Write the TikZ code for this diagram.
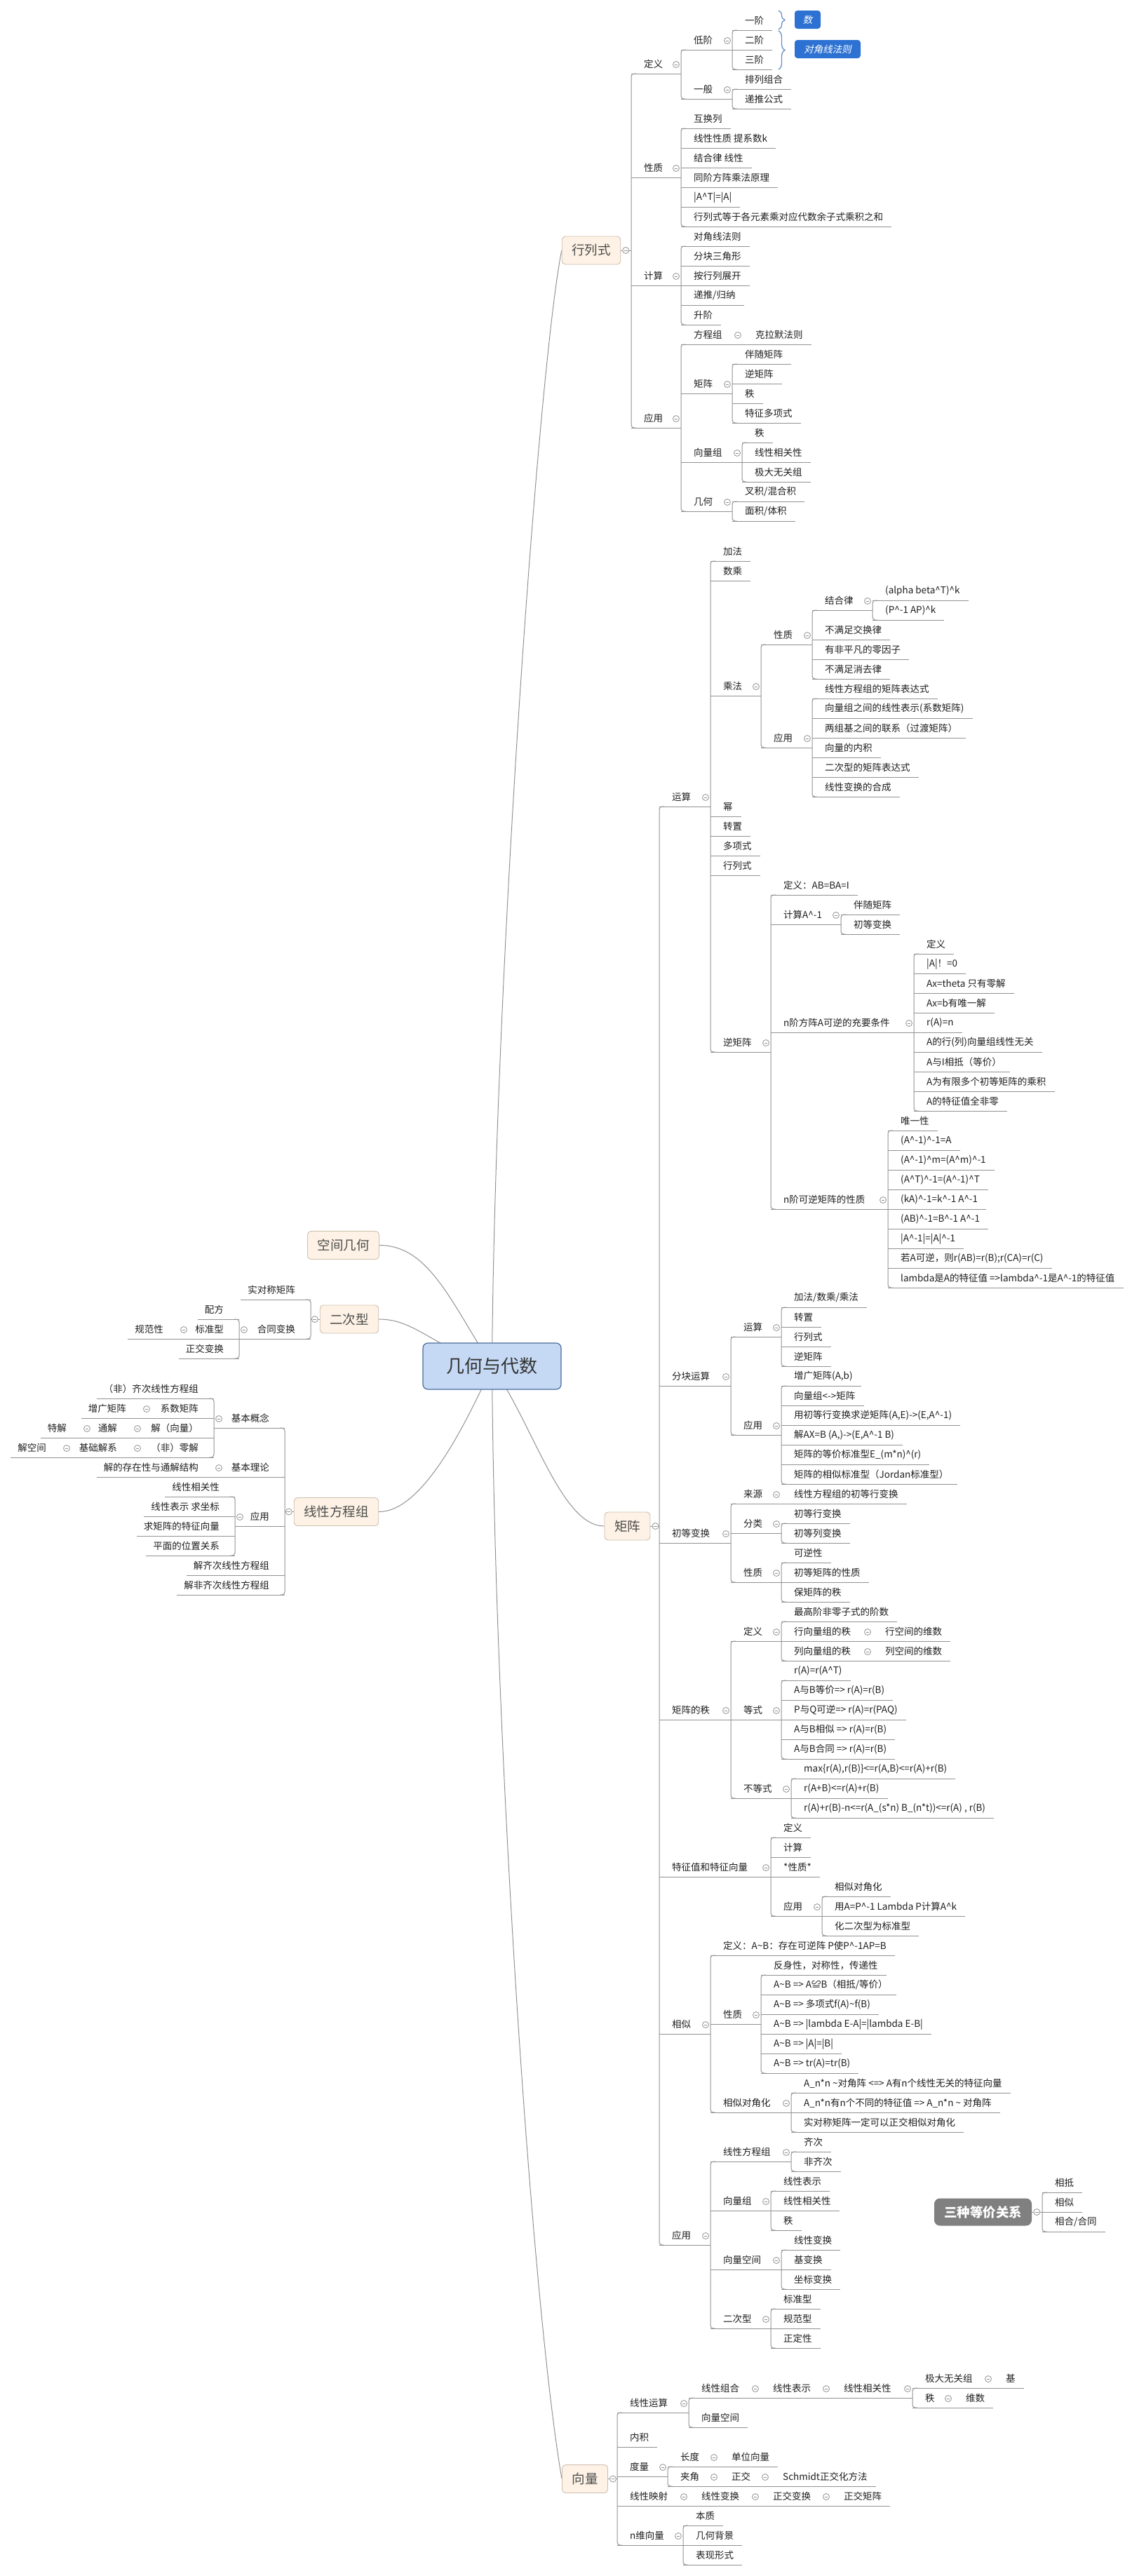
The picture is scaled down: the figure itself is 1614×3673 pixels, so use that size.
\documentclass[tikz,border=0pt]{standalone}
\usepackage{fontspec}
\setmainfont{Noto Sans CJK SC}
\newfontfamily\itcjk{Noto Sans CJK SC}[FakeSlant=0.2]
\usetikzlibrary{calc,backgrounds,decorations.pathreplacing}
\definecolor{lnc}{HTML}{929292}
\definecolor{boxf}{HTML}{FDF2E5}
\definecolor{boxb}{HTML}{CDBFAF}
\definecolor{boxt}{HTML}{4D4D4D}
\definecolor{rootf}{HTML}{C5D9F4}
\definecolor{rootb}{HTML}{4C6C9C}
\definecolor{calf}{HTML}{2D72D2}
\definecolor{brc}{HTML}{6A8FC8}
\newcommand\crt{\textasciicircum}
\newcommand\tld{\textasciitilde}
\newcommand\Rpar[4]{\node[nd,anchor=south west] (#1) at (#2,#3) {\hspace*{18pt}#4\hspace*{12pt}};}
\newcommand\Rleaf[4]{\Rpar{#1}{#2}{#3}{#4}\draw[ln] (#1.south west) -- (#1.south east);}
\newcommand\Rlink[2]{\draw[ln] (#1.south west) -- (#1.south west -| #2.south west); \pic at ($(#1.south west -| #2.south west)+(-7,-13)$) {colp};}
\newcommand\Rbr[2]{\draw[ln,rounded corners=4pt] ([xshift=7pt]#1.south west) -- (#1.south west) -- (#2.south west) -- ([xshift=7pt]#2.south west);}
\newcommand\Lpar[4]{\node[nd,anchor=south east] (#1) at (#2,#3) {\hspace*{10pt}#4\hspace*{22pt}};}
\newcommand\Lleaf[4]{\Lpar{#1}{#2}{#3}{#4}\draw[ln] (#1.south east) -- (#1.south west);}
\newcommand\Llink[2]{\draw[ln] (#1.south east) -- (#1.south east -| #2.south east); \pic at ($(#1.south east -| #2.south east)+(7,-13)$) {colp};}
\newcommand\Lbr[2]{\draw[ln,rounded corners=4pt] ([xshift=-7pt]#1.south east) -- (#1.south east) -- (#2.south east) -- ([xshift=-7pt]#2.south east);}
\newcommand\Mlink[2]{\draw[ln] (#1.east) -- (#1.east -| #2.south west); \pic at ($(#1.east)+(7,0)$) {colp};}
\newcommand\Mlinkl[2]{\draw[ln] (#1.west) -- (#1.west -| #2.south east); \pic at ($(#1.west)+(-7,0)$) {colp};}
\tikzset{
  nd/.style={inner sep=0pt, minimum height=27pt, font=\fontsize{13.5}{16}\selectfont, text=black!88},
  ln/.style={draw=lnc, line width=1pt},
  cv/.style={draw=lnc, line width=1pt},
  colp/.pic={\draw[draw=lnc, fill=white, line width=0.8pt] (0,0) circle (4.5pt); \draw[draw=lnc, line width=0.8pt] (-2.4pt,0) -- (2.4pt,0);},
  mbox/.style={draw=boxb, fill=boxf, rounded corners=5pt, line width=0.9pt, minimum height=40pt, inner xsep=14pt, inner ysep=0pt, font=\fontsize{18.5}{22}\selectfont, text=boxt},
  rootbox/.style={draw=rootb, fill=rootf, rounded corners=7pt, line width=1.2pt, minimum width=197pt, minimum height=66pt, font=\fontsize{26}{30}\selectfont, text=black!80},
  gbox/.style={fill=black!50, rounded corners=8pt, minimum height=39pt, inner xsep=14pt, font=\fontsize{18.5}{22}\selectfont\bfseries, text=white},
  callout/.style={fill=calf, rounded corners=4pt, inner sep=0pt, minimum height=26pt, font=\fontsize{13.5}{16}\selectfont\itcjk, text=white},
  brc/.style={draw=brc, line width=1.3pt, decorate, decoration={brace, amplitude=9pt}}
}
\begin{document}
\begin{tikzpicture}[x=1pt,y=-1pt]
\useasboundingbox (0,0) rectangle (1614,3673);
\begin{scope}[on background layer]
\fill[white] (0,0) rectangle (1614,3673);
\end{scope}

% ---------- root and main boxes
\node[rootbox] (root) at (701.5,1948) {几何与代数};
\node[mbox] (hls) at (843,357) {行列式};
\node[mbox] (mjz) at (894.5,2176) {矩阵};
\node[mbox] (vxl) at (834,3534.5) {向量};
\node[mbox] (lkj) at (489.5,1775.5) {空间几何};
\node[mbox] (lqx) at (498,1881) {二次型};
\node[mbox] (lxf) at (479.5,2155.5) {线性方程组};
\node[gbox] (edj) at (1401.5,3154) {三种等价关系};

% ---------- 行列式
\Rpar{hdy}{900}{105}{定义}
\Rpar{hxz}{900}{253}{性质}
\Rpar{hjs}{900}{407}{计算}
\Rpar{hyy}{900}{610}{应用}
\Mlink{hls}{hdy}
\Rbr{hdy}{hyy}
\Rpar{hdj}{971}{71}{低阶}
\Rpar{hyb}{971}{141}{一般}
\Rlink{hdy}{hdj}
\Rbr{hdj}{hyb}
\Rleaf{hya}{1044}{43}{一阶}
\Rleaf{hea}{1044}{71}{二阶}
\Rleaf{hsa}{1044}{99}{三阶}
\Rlink{hdj}{hya}
\Rbr{hya}{hsa}
\Rleaf{hpl}{1044}{127}{排列组合}
\Rleaf{hdt}{1044}{155}{递推公式}
\Rlink{hyb}{hpl}
\Rbr{hpl}{hdt}
\node[callout, minimum width=37pt] (cs) at (1151.5,28) {数};
\node[callout, minimum width=94pt] (cd) at (1180,70) {对角线法则};
\draw[brc] (1110,15) -- (1110,42);
\draw[brc] (1110,44) -- (1110,99);

\Rleaf{hx1}{971}{183}{互换列}
\Rleaf{hx2}{971}{211}{线性性质 提系数k}
\Rleaf{hx3}{971}{239}{结合律 线性}
\Rleaf{hx4}{971}{267}{同阶方阵乘法原理}
\Rleaf{hx5}{971}{295}{|A\crt T|=|A|}
\Rleaf{hx6}{971}{323}{行列式等于各元素乘对应代数余子式乘积之和}
\Rlink{hxz}{hx1}
\Rbr{hx1}{hx6}

\Rleaf{hj1}{971}{351}{对角线法则}
\Rleaf{hj2}{971}{379}{分块三角形}
\Rleaf{hj3}{971}{407}{按行列展开}
\Rleaf{hj4}{971}{435}{递推/归纳}
\Rleaf{hj5}{971}{463}{升阶}
\Rlink{hjs}{hj1}
\Rbr{hj1}{hj5}

\Rpar{hfc}{971}{491}{方程组}
\Rleaf{hkl}{1059}{491}{克拉默法则}
\Rlink{hfc}{hkl}
\Rpar{hjz}{971}{561}{矩阵}
\Rleaf{hz1}{1044}{519}{伴随矩阵}
\Rleaf{hz2}{1044}{547}{逆矩阵}
\Rleaf{hz3}{1044}{575}{秩}
\Rleaf{hz4}{1044}{603}{特征多项式}
\Rlink{hjz}{hz1}
\Rbr{hz1}{hz4}
\Rpar{hxl}{971}{659}{向量组}
\Rleaf{hl1}{1058}{631}{秩}
\Rleaf{hl2}{1058}{659}{线性相关性}
\Rleaf{hl3}{1058}{687}{极大无关组}
\Rlink{hxl}{hl1}
\Rbr{hl1}{hl3}
\Rpar{hjh}{971}{729}{几何}
\Rleaf{hh1}{1044}{715}{叉积/混合积}
\Rleaf{hh2}{1044}{743}{面积/体积}
\Rlink{hjh}{hh1}
\Rbr{hh1}{hh2}
\Rlink{hyy}{hfc}
\Rbr{hfc}{hjh}

% ---------- 矩阵
\Rpar{mys}{940}{1150}{运算}
\Rpar{mfk}{940}{1976}{分块运算}
\Rpar{mcd}{940}{2200}{初等变换}
\Rpar{mzd}{940}{2452}{矩阵的秩}
\Rpar{mtz}{940}{2676}{特征值和特征向量}
\Rpar{mxs}{940}{2900}{相似}
\Rpar{myy}{940}{3201}{应用}
\Mlink{mjz}{mys}
\Rbr{mys}{myy}

\Rleaf{ma1}{1013}{800}{加法}
\Rleaf{ma2}{1013}{828}{数乘}
\Rpar{mcf}{1013}{992}{乘法}
\Rleaf{ma4}{1013}{1164}{幂}
\Rleaf{ma5}{1013}{1192}{转置}
\Rleaf{ma6}{1013}{1220}{多项式}
\Rleaf{ma7}{1013}{1248}{行列式}
\Rpar{mnj}{1013}{1500}{逆矩阵}
\Rlink{mys}{ma1}
\Rbr{ma1}{mnj}

\Rpar{mcx}{1085}{919}{性质}
\Rpar{mcy}{1085}{1066}{应用}
\Rlink{mcf}{mcx}
\Rbr{mcx}{mcy}
\Rpar{mjh}{1158}{870}{结合律}
\Rleaf{mx2}{1158}{912}{不满足交换律}
\Rleaf{mx3}{1158}{940}{有非平凡的零因子}
\Rleaf{mx4}{1158}{968}{不满足消去律}
\Rlink{mcx}{mjh}
\Rbr{mjh}{mx4}
\Rleaf{mj1}{1244}{856}{(alpha beta\crt T)\crt k}
\Rleaf{mj2}{1244}{884}{(P\crt -1 AP)\crt k}
\Rlink{mjh}{mj1}
\Rbr{mj1}{mj2}
\Rleaf{my1}{1158}{996}{线性方程组的矩阵表达式}
\Rleaf{my2}{1158}{1024}{向量组之间的线性表示(系数矩阵)}
\Rleaf{my3}{1158}{1052}{两组基之间的联系（过渡矩阵）}
\Rleaf{my4}{1158}{1080}{向量的内积}
\Rleaf{my5}{1158}{1108}{二次型的矩阵表达式}
\Rleaf{my6}{1158}{1136}{线性变换的合成}
\Rlink{mcy}{my1}
\Rbr{my1}{my6}

\Rleaf{mn1}{1099}{1276}{定义：AB=BA=I}
\Rpar{mn2}{1099}{1318}{计算A\crt -1}
\Rpar{mn3}{1099}{1472}{n阶方阵A可逆的充要条件}
\Rpar{mn4}{1099}{1724}{n阶可逆矩阵的性质}
\Rlink{mnj}{mn1}
\Rbr{mn1}{mn4}
\Rleaf{mc1}{1199}{1304}{伴随矩阵}
\Rleaf{mc2}{1199}{1332}{初等变换}
\Rlink{mn2}{mc1}
\Rbr{mc1}{mc2}
\Rleaf{mk1}{1303}{1360}{定义}
\Rleaf{mk2}{1303}{1388}{|A|！=0}
\Rleaf{mk3}{1303}{1416}{Ax=theta 只有零解}
\Rleaf{mk4}{1303}{1444}{Ax=b有唯一解}
\Rleaf{mk5}{1303}{1472}{r(A)=n}
\Rleaf{mk6}{1303}{1500}{A的行(列)向量组线性无关}
\Rleaf{mk7}{1303}{1528}{A与I相抵（等价）}
\Rleaf{mk8}{1303}{1556}{A为有限多个初等矩阵的乘积}
\Rleaf{mk9}{1303}{1584}{A的特征值全非零}
\Rlink{mn3}{mk1}
\Rbr{mk1}{mk9}
\Rleaf{mp1}{1266}{1612}{唯一性}
\Rleaf{mp2}{1266}{1640}{(A\crt -1)\crt -1=A}
\Rleaf{mp3}{1266}{1668}{(A\crt -1)\crt m=(A\crt m)\crt -1}
\Rleaf{mp4}{1266}{1696}{(A\crt T)\crt -1=(A\crt -1)\crt T}
\Rleaf{mp5}{1266}{1724}{(kA)\crt -1=k\crt -1 A\crt -1}
\Rleaf{mp6}{1266}{1752}{(AB)\crt -1=B\crt -1 A\crt -1}
\Rleaf{mp7}{1266}{1780}{|A\crt -1|=|A|\crt -1}
\Rleaf{mp8}{1266}{1808}{若A可逆，则r(AB)=r(B);r(CA)=r(C)}
\Rleaf{mp9}{1266}{1836}{lambda是A的特征值 =>lambda\crt -1是A\crt -1的特征值}
\Rlink{mn4}{mp1}
\Rbr{mp1}{mp9}

\Rpar{mf1}{1042}{1906}{运算}
\Rpar{mf2}{1042}{2046}{应用}
\Rlink{mfk}{mf1}
\Rbr{mf1}{mf2}
\Rleaf{mfa}{1114}{1864}{加法/数乘/乘法}
\Rleaf{mfb}{1114}{1892}{转置}
\Rleaf{mfc}{1114}{1920}{行列式}
\Rleaf{mfd}{1114}{1948}{逆矩阵}
\Rlink{mf1}{mfa}
\Rbr{mfa}{mfd}
\Rleaf{mg1}{1114}{1976}{增广矩阵(A,b)}
\Rleaf{mg2}{1114}{2004}{向量组<->矩阵}
\Rleaf{mg3}{1114}{2032}{用初等行变换求逆矩阵(A,E)->(E,A\crt -1)}
\Rleaf{mg4}{1114}{2060}{解AX=B (A,)->(E,A\crt -1 B)}
\Rleaf{mg5}{1114}{2088}{矩阵的等价标准型E\_(m*n)\crt (r)}
\Rleaf{mg6}{1114}{2116}{矩阵的相似标准型（Jordan标准型）}
\Rlink{mf2}{mg1}
\Rbr{mg1}{mg6}

\Rpar{md1}{1042}{2144}{来源}
\Rleaf{md1a}{1114}{2144}{线性方程组的初等行变换}
\Rlink{md1}{md1a}
\Rpar{md2}{1042}{2186}{分类}
\Rleaf{md2a}{1114}{2172}{初等行变换}
\Rleaf{md2b}{1114}{2200}{初等列变换}
\Rlink{md2}{md2a}
\Rbr{md2a}{md2b}
\Rpar{md3}{1042}{2256}{性质}
\Rleaf{md3a}{1114}{2228}{可逆性}
\Rleaf{md3b}{1114}{2256}{初等矩阵的性质}
\Rleaf{md3c}{1114}{2284}{保矩阵的秩}
\Rlink{md3}{md3a}
\Rbr{md3a}{md3c}
\Rlink{mcd}{md1}
\Rbr{md1}{md3}

\Rpar{mr1}{1042}{2340}{定义}
\Rleaf{mr1a}{1114}{2312}{最高阶非零子式的阶数}
\Rpar{mr1b}{1114}{2340}{行向量组的秩}
\Rleaf{mr1c}{1244}{2340}{行空间的维数}
\Rpar{mr1d}{1114}{2368}{列向量组的秩}
\Rleaf{mr1e}{1244}{2368}{列空间的维数}
\Rlink{mr1b}{mr1c}
\Rlink{mr1d}{mr1e}
\Rlink{mr1}{mr1a}
\Rbr{mr1a}{mr1d}
\Rpar{mr2}{1042}{2452}{等式}
\Rleaf{mr2a}{1114}{2396}{r(A)=r(A\crt T)}
\Rleaf{mr2b}{1114}{2424}{A与B等价=> r(A)=r(B)}
\Rleaf{mr2c}{1114}{2452}{P与Q可逆=> r(A)=r(PAQ)}
\Rleaf{mr2d}{1114}{2480}{A与B相似 => r(A)=r(B)}
\Rleaf{mr2e}{1114}{2508}{A与B合同 => r(A)=r(B)}
\Rlink{mr2}{mr2a}
\Rbr{mr2a}{mr2e}
\Rpar{mr3}{1042}{2564}{不等式}
\Rleaf{mr3a}{1128}{2536}{max\{r(A),r(B)\}<=r(A,B)<=r(A)+r(B)}
\Rleaf{mr3b}{1128}{2564}{r(A+B)<=r(A)+r(B)}
\Rleaf{mr3c}{1128}{2592}{r(A)+r(B)-n<=r(A\_(s*n) B\_(n*t))<=r(A) , r(B)}
\Rlink{mr3}{mr3a}
\Rbr{mr3a}{mr3c}
\Rlink{mzd}{mr1}
\Rbr{mr1}{mr3}

\Rleaf{mt1}{1099}{2620}{定义}
\Rleaf{mt2}{1099}{2648}{计算}
\Rleaf{mt3}{1099}{2676}{*性质*}
\Rpar{mt4}{1099}{2732}{应用}
\Rleaf{mt4a}{1172}{2704}{相似对角化}
\Rleaf{mt4b}{1172}{2732}{用A=P\crt -1 Lambda P计算A\crt k}
\Rleaf{mt4c}{1172}{2760}{化二次型为标准型}
\Rlink{mt4}{mt4a}
\Rbr{mt4a}{mt4c}
\Rlink{mtz}{mt1}
\Rbr{mt1}{mt4}

\Rleaf{ms1}{1013}{2788}{定义：A\tld B：存在可逆阵 P使P\crt -1AP=B}
\Rpar{ms2}{1013}{2886}{性质}
\Rleaf{ms2a}{1085}{2816}{反身性，对称性，传递性}
\Rleaf{ms2b}{1085}{2844}{A\tld B => A≌B（相抵/等价）}
\Rleaf{ms2c}{1085}{2872}{A\tld B => 多项式f(A)\tld f(B)}
\Rleaf{ms2d}{1085}{2900}{A\tld B => |lambda E-A|=|lambda E-B|}
\Rleaf{ms2e}{1085}{2928}{A\tld B => |A|=|B|}
\Rleaf{ms2f}{1085}{2956}{A\tld B => tr(A)=tr(B)}
\Rlink{ms2}{ms2a}
\Rbr{ms2a}{ms2f}
\Rpar{ms3}{1013}{3012}{相似对角化}
\Rleaf{ms3a}{1128}{2984}{A\_n*n \tld 对角阵 <=> A有n个线性无关的特征向量}
\Rleaf{ms3b}{1128}{3012}{A\_n*n有n个不同的特征值 => A\_n*n \tld{} 对角阵}
\Rleaf{ms3c}{1128}{3040}{实对称矩阵一定可以正交相似对角化}
\Rlink{ms3}{ms3a}
\Rbr{ms3a}{ms3c}
\Rlink{mxs}{ms1}
\Rbr{ms1}{ms3}

\Rpar{mu1}{1013}{3082}{线性方程组}
\Rleaf{mu1a}{1128}{3068}{齐次}
\Rleaf{mu1b}{1128}{3096}{非齐次}
\Rlink{mu1}{mu1a}
\Rbr{mu1a}{mu1b}
\Rpar{mu2}{1013}{3152}{向量组}
\Rleaf{mu2a}{1099}{3124}{线性表示}
\Rleaf{mu2b}{1099}{3152}{线性相关性}
\Rleaf{mu2c}{1099}{3180}{秩}
\Rlink{mu2}{mu2a}
\Rbr{mu2a}{mu2c}
\Rpar{mu3}{1013}{3236}{向量空间}
\Rleaf{mu3a}{1114}{3208}{线性变换}
\Rleaf{mu3b}{1114}{3236}{基变换}
\Rleaf{mu3c}{1114}{3264}{坐标变换}
\Rlink{mu3}{mu3a}
\Rbr{mu3a}{mu3c}
\Rpar{mu4}{1013}{3320}{二次型}
\Rleaf{mu4a}{1099}{3292}{标准型}
\Rleaf{mu4b}{1099}{3320}{规范型}
\Rleaf{mu4c}{1099}{3348}{正定性}
\Rlink{mu4}{mu4a}
\Rbr{mu4a}{mu4c}
\Rlink{myy}{mu1}
\Rbr{mu1}{mu4}

% ---------- 三种等价关系
\Rleaf{ed1}{1486}{3126}{相抵}
\Rleaf{ed2}{1486}{3154}{相似}
\Rleaf{ed3}{1486}{3182}{相合/合同}
\Mlink{edj}{ed1}
\Rbr{ed1}{ed3}

% ---------- 向量
\Rpar{v1}{880}{3440}{线性运算}
\Rleaf{v2}{880}{3489}{内积}
\Rpar{v3}{880}{3531}{度量}
\Rpar{v4}{880}{3573}{线性映射}
\Rpar{v5}{880}{3629}{n维向量}
\Mlink{vxl}{v1}
\Rbr{v1}{v5}
\Rpar{v1a}{982}{3419}{线性组合}
\Rpar{v1b}{1084}{3419}{线性表示}
\Rpar{v1c}{1185}{3419}{线性相关性}
\Rpar{v1d}{1301}{3405}{极大无关组}
\Rleaf{v1e}{1416}{3405}{基}
\Rpar{v1f}{1301}{3433}{秩}
\Rleaf{v1g}{1359}{3433}{维数}
\Rleaf{v1h}{982}{3461}{向量空间}
\Rlink{v1}{v1a}
\Rbr{v1a}{v1h}
\Rlink{v1a}{v1b}
\Rlink{v1b}{v1c}
\Rlink{v1c}{v1d}
\Rbr{v1d}{v1f}
\Rlink{v1d}{v1e}
\Rlink{v1f}{v1g}
\Rpar{v3a}{952}{3517}{长度}
\Rleaf{v3b}{1025}{3517}{单位向量}
\Rpar{v3c}{952}{3545}{夹角}
\Rpar{v3d}{1025}{3545}{正交}
\Rleaf{v3e}{1098}{3545}{Schmidt正交化方法}
\Rlink{v3}{v3a}
\Rbr{v3a}{v3c}
\Rlink{v3a}{v3b}
\Rlink{v3c}{v3d}
\Rlink{v3d}{v3e}
\Rpar{v4a}{982}{3573}{线性变换}
\Rpar{v4b}{1084}{3573}{正交变换}
\Rleaf{v4c}{1185}{3573}{正交矩阵}
\Rlink{v4}{v4a}
\Rlink{v4a}{v4b}
\Rlink{v4b}{v4c}
\Rleaf{v5a}{974}{3601}{本质}
\Rleaf{v5b}{974}{3629}{几何背景}
\Rleaf{v5c}{974}{3657}{表现形式}
\Rlink{v5}{v5a}
\Rbr{v5a}{v5c}

% ---------- 二次型 (left)
\Lleaf{q1}{443}{1853}{实对称矩阵}
\Lpar{q2}{443}{1909}{合同变换}
\Mlinkl{lqx}{q1}
\Lbr{q1}{q2}
\Lleaf{q2a}{341}{1881}{配方}
\Lpar{q2b}{341}{1909}{标准型}
\Lleaf{q2c}{255}{1909}{规范性}
\Lleaf{q2d}{341}{1937}{正交变换}
\Llink{q2}{q2a}
\Lbr{q2a}{q2d}
\Llink{q2b}{q2c}

% ---------- 线性方程组 (left)
\Lpar{s1}{406}{2036}{基本概念}
\Lpar{s2}{406}{2106}{基本理论}
\Lpar{s3}{406}{2176}{应用}
\Lleaf{s4}{406}{2246}{解齐次线性方程组}
\Lleaf{s5}{406}{2274}{解非齐次线性方程组}
\Mlinkl{lxf}{s1}
\Lbr{s1}{s5}
\Lleaf{s1a}{305}{1994}{（非）齐次线性方程组}
\Lpar{s1b}{305}{2022}{系数矩阵}
\Lleaf{s1c}{202}{2022}{增广矩阵}
\Lpar{s1d}{305}{2050}{解（向量）}
\Lpar{s1e}{189}{2050}{通解}
\Lleaf{s1f}{117}{2050}{特解}
\Lpar{s1g}{305}{2078}{（非）零解}
\Lpar{s1h}{189}{2078}{基础解系}
\Lleaf{s1i}{88}{2078}{解空间}
\Llink{s1}{s1a}
\Lbr{s1a}{s1g}
\Llink{s1b}{s1c}
\Llink{s1d}{s1e}
\Llink{s1e}{s1f}
\Llink{s1g}{s1h}
\Llink{s1h}{s1i}
\Lleaf{s2a}{305}{2106}{解的存在性与通解结构}
\Llink{s2}{s2a}
\Lleaf{s3a}{335}{2134}{线性相关性}
\Lleaf{s3b}{335}{2162}{线性表示 求坐标}
\Lleaf{s3c}{335}{2190}{求矩阵的特征向量}
\Lleaf{s3d}{335}{2218}{平面的位置关系}
\Llink{s3}{s3a}
\Lbr{s3a}{s3d}

% ---------- curves from root
\begin{scope}[on background layer]
\draw[cv] (root.center) .. controls (705,1400) and (768,520) .. (hls.west);
\draw[cv] (root.center) .. controls (760,2030) and (800,2176) .. (mjz.west);
\draw[cv] (root.center) .. controls (705,2500) and (760,3300) .. (vxl.west);
\draw[cv] (root.center) .. controls (640,1850) and (610,1776) .. (lkj.east);
\draw[cv] (root.center) .. controls (610,1915) and (590,1881) .. (lqx.east);
\draw[cv] (root.center) .. controls (660,2040) and (600,2156) .. (lxf.east);
\end{scope}
\end{tikzpicture}
\end{document}
